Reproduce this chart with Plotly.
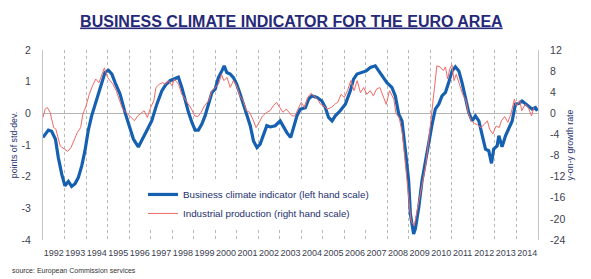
import plotly.graph_objects as go

# ---- data ----
years = list(range(1992, 2015))
year_labels = [str(y) for y in years]

bci_t = [1992.00, 1992.25, 1992.40, 1992.58, 1992.71, 1992.87, 1993.02, 1993.18, 1993.33, 1993.49,
         1993.64, 1993.80, 1993.95, 1994.10, 1994.26, 1994.42, 1994.57, 1994.73, 1994.88, 1995.04,
         1995.20, 1995.35, 1995.58, 1995.81, 1995.97, 1996.20, 1996.43, 1996.59, 1996.82, 1997.05,
         1997.29, 1997.52, 1997.70, 1997.90, 1998.14, 1998.29, 1998.45, 1998.60, 1998.76, 1998.92,
         1999.07, 1999.22, 1999.38, 1999.53, 1999.69, 1999.85, 2000.00, 2000.15, 2000.31, 2000.42,
         2000.54, 2000.70, 2000.85, 2001.00, 2001.16, 2001.40, 2001.63, 2001.78, 2001.94, 2002.09,
         2002.25, 2002.40, 2002.56, 2002.79, 2003.02, 2003.18, 2003.33, 2003.51, 2003.65, 2003.80,
         2003.95, 2004.19, 2004.34, 2004.50, 2004.73, 2004.96, 2005.12, 2005.27, 2005.43, 2005.58,
         2005.81, 2006.05, 2006.28, 2006.43, 2006.59, 2006.82, 2007.02, 2007.21, 2007.44, 2007.60,
         2007.75, 2007.98, 2008.21, 2008.37, 2008.53, 2008.68, 2008.84, 2008.99, 2009.07, 2009.22,
         2009.30, 2009.40, 2009.46, 2009.61, 2009.77, 2009.92, 2010.08, 2010.23, 2010.39, 2010.54,
         2010.70, 2010.85, 2011.01, 2011.16, 2011.32, 2011.47, 2011.63, 2011.78, 2011.94, 2012.09,
         2012.25, 2012.40, 2012.56, 2012.71, 2012.84, 2012.94, 2013.10, 2013.18, 2013.33, 2013.49,
         2013.64, 2013.80, 2013.95, 2014.10, 2014.26, 2014.42, 2014.57, 2014.73, 2014.88, 2014.97]
bci_v = [-0.76, -0.53, -0.57, -0.82, -1.39, -1.92, -2.29, -2.15, -2.31, -2.22,
         -2.03, -1.66, -1.18, -0.55, -0.08, 0.29, 0.60, 0.92, 1.29, 1.36,
         1.24, 0.97, 0.61, 0.03, -0.34, -0.81, -1.06, -0.87, -0.55, -0.24,
         0.29, 0.71, 0.90, 1.03, 1.11, 1.14, 0.82, 0.39, 0.03, -0.29,
         -0.53, -0.53, -0.34, -0.08, 0.29, 0.66, 0.76, 1.13, 1.34, 1.50,
         1.29, 1.24, 1.13, 0.92, 0.61, 0.13, -0.39, -0.87, -1.08, -0.97,
         -0.66, -0.39, -0.43, -0.39, -0.24, -0.45, -0.61, -0.76, -0.39, -0.08,
         0.13, 0.18, 0.45, 0.55, 0.50, 0.39, 0.18, -0.13, -0.24, -0.08,
         0.08, 0.29, 0.71, 1.08, 1.24, 1.29, 1.34, 1.45, 1.50, 1.34,
         1.18, 0.97, 0.82, 0.55, -0.03, -0.24, -1.18, -2.13, -3.18, -3.81,
         -3.65, -3.30, -2.97, -2.13, -1.50, -0.87, -0.34, 0.13, 0.29, 0.55,
         0.66, 0.97, 1.34, 1.47, 1.34, 0.97, 0.45, 0.03, -0.24, -0.08,
         -0.24, -0.71, -1.13, -1.18, -1.58, -1.13, -1.03, -0.71, -1.06, -0.71,
         -0.50, -0.24, 0.29, 0.31, 0.39, 0.31, 0.24, 0.13, 0.18, 0.08]

ip_t = [1992.00, 1992.10, 1992.20, 1992.33, 1992.40, 1992.50, 1992.60, 1992.70, 1992.80, 1993.00,
        1993.15, 1993.30, 1993.45, 1993.60, 1993.75, 1993.85, 1994.00, 1994.15, 1994.30, 1994.45,
        1994.60, 1994.75, 1994.85, 1995.00, 1995.10, 1995.25, 1995.40, 1995.55, 1995.70, 1995.85,
        1996.10, 1996.25, 1996.40, 1996.55, 1996.70, 1996.85, 1997.00, 1997.15, 1997.25, 1997.40,
        1997.55, 1997.70, 1997.83, 1998.00, 1998.10, 1998.30, 1998.45, 1998.60, 1998.75, 1998.90,
        1999.05, 1999.20, 1999.35, 1999.50, 1999.70, 1999.85, 2000.00, 2000.15, 2000.30, 2000.40,
        2000.55, 2000.70, 2000.85, 2001.00, 2001.15, 2001.30, 2001.45, 2001.60, 2001.75, 2001.90,
        2002.05, 2002.20, 2002.40, 2002.55, 2002.70, 2002.85, 2003.00, 2003.15, 2003.30, 2003.45,
        2003.58, 2003.70, 2003.85, 2004.00, 2004.15, 2004.30, 2004.45, 2004.60, 2004.75, 2004.90,
        2005.05, 2005.20, 2005.40, 2005.55, 2005.70, 2005.85, 2006.00, 2006.15, 2006.30, 2006.45,
        2006.60, 2006.75, 2006.90, 2007.05, 2007.20, 2007.35, 2007.50, 2007.65, 2007.80, 2007.95,
        2008.10, 2008.30, 2008.40, 2008.55, 2008.70, 2008.85, 2009.00, 2009.10, 2009.25, 2009.35,
        2009.45, 2009.60, 2009.77, 2009.92, 2010.08, 2010.20, 2010.30, 2010.45, 2010.60, 2010.70,
        2010.80, 2010.90, 2011.00, 2011.10, 2011.20, 2011.35, 2011.50, 2011.65, 2011.75, 2011.90,
        2012.05, 2012.20, 2012.35, 2012.50, 2012.65, 2012.75, 2012.90, 2013.05, 2013.20, 2013.30,
        2013.45, 2013.60, 2013.75, 2013.90, 2014.00, 2014.15, 2014.25, 2014.40, 2014.55, 2014.70,
        2014.80]
ip_v = [-0.8, 0.8, 1.1, 0.2, -1.1, -2.7, -3.0, -4.6, -6.2, -6.8,
        -7.2, -6.5, -5.2, -3.6, -2.7, -0.2, 1.4, 3.6, 5.2, 6.5,
        5.8, 7.4, 8.6, 6.8, 6.2, 5.5, 4.3, 2.4, 0.8, 0.2,
        -0.8, -1.4, -0.5, 0.0, 0.5, -0.8, 1.1, 2.4, 4.9, 5.5,
        5.8, 5.5, 6.2, 5.2, 6.5, 5.5, 3.6, 2.7, 1.7, 0.8,
        -0.5, -0.6, 0.2, 1.4, 2.4, 4.3, 4.9, 5.5, 7.4, 6.2,
        6.8, 4.9, 6.2, 5.2, 3.3, 2.4, 0.5, 0.2, -1.1, -2.7,
        -1.7, -0.5, 0.2, 0.5, 1.4, 2.1, 1.1, 0.2, 0.8, 0.0,
        -0.5, -0.5, 0.8, 2.1, 1.1, 3.0, 3.8, 3.3, 2.7, 1.7,
        1.4, 0.8, 1.1, 1.7, 2.1, 3.6, 3.0, 4.3, 6.2, 4.3,
        6.2, 3.9, 4.9, 3.6, 4.3, 3.3, 4.6, 4.9, 3.3, 1.7,
        4.3, 2.7, 0.0, -0.8, -3.9, -10.2, -15.9, -20.4, -21.3, -19.1,
        -17.2, -14.1, -10.2, -5.2, 1.1, 6.2, 9.0, 8.8, 8.1, 8.8,
        6.5, 8.4, 9.2, 6.2, 7.4, 5.5, 3.6, 2.4, 0.2, -1.4,
        -1.9, -2.2, -2.7, -2.1, -1.4, -3.0, -3.9, -2.4, -2.7, -1.4,
        -0.6, -1.7, 0.0, 2.7, 1.4, 2.4, 0.5, 1.7, 1.1, -0.5,
        1.1]

left_ticks = [2, 1, 0, -1, -2, -3, -4]
right_ticks = [12, 8, 4, 0, -4, -8, -12, -16, -20, -24]

NAVY = "#23306e"
TICK = "#3c4150"
BLUE = "#1560b0"
RED = "#f06a66"
FONT = "Liberation Sans, Arial, sans-serif"

fig = go.Figure()
fig.add_trace(go.Scatter(x=bci_t, y=bci_v, mode="lines", name="Business climate indicator (left hand scale)",
                         line=dict(color=BLUE, width=3.2), yaxis="y"))
fig.add_trace(go.Scatter(x=ip_t, y=ip_v, mode="lines", name="Industrial production (right hand scale)",
                         line=dict(color=RED, width=1), yaxis="y2"))

fig.update_layout(
    width=591, height=279,
    margin=dict(l=43, r=53, t=50, b=39, autoexpand=False),
    paper_bgcolor="white", plot_bgcolor="white",
    font=dict(family=FONT, size=10, color=TICK),
    title=dict(text="<b><u>BUSINESS CLIMATE INDICATOR FOR THE EURO AREA</u></b>",
               x=0.493, xanchor="center", y=0.925, yanchor="middle",
               font=dict(family=FONT, size=16, color="#262878")),
    xaxis=dict(range=[1992, 2015], tickmode="array", tickvals=[y + 0.5 for y in years],
               ticktext=year_labels, showgrid=False, zeroline=False, showline=False,
               tickangle=0, automargin=False,
               ticks="outside", ticklen=4, tickcolor="rgba(0,0,0,0)",
               tickfont=dict(family=FONT, size=9, color=TICK),
               minor=dict(tick0=1992, dtick=1, showgrid=True, gridcolor="#b8b8b8",
                          griddash="3px,3px", gridwidth=1, ticks="")),
    yaxis=dict(range=[-4, 2], tickmode="array", tickvals=left_ticks,
               ticktext=[str(v) for v in left_ticks], showgrid=False, automargin=False,
               zeroline=True, zerolinecolor="#b4b4b4", zerolinewidth=1,
               showline=True, linecolor="#c4c4c4", linewidth=1,
               ticks="outside", ticklen=9, tickcolor="rgba(0,0,0,0)",
               tickfont=dict(family=FONT, size=10.5, color=TICK),
               title=dict(text="points of std-dev.", standoff=2,
                          font=dict(family=FONT, size=8.8, color=NAVY))),
    yaxis2=dict(range=[-24, 12], overlaying="y", side="right", tickmode="array",
                tickvals=right_ticks, ticktext=[str(v) for v in right_ticks], automargin=False,
                showgrid=False, zeroline=False, showline=True, linecolor="#c4c4c4", linewidth=1,
                ticks="outside", ticklen=9, tickcolor="rgba(0,0,0,0)",
                tickfont=dict(family=FONT, size=10.5, color=TICK),
                title=dict(text="y-on-y growth rate", standoff=2,
                           font=dict(family=FONT, size=8.8, color=NAVY))),
    legend=dict(x=0.202, y=0.316, xanchor="left", yanchor="top", bgcolor="white",
                font=dict(family=FONT, size=9.8, color=NAVY), tracegroupgap=0,
                borderwidth=0),
    showlegend=True,
)

fig.add_annotation(text="source: European Commission services", xref="paper", yref="paper",
                   x=-0.067, y=-0.163, xanchor="left", yanchor="middle", showarrow=False,
                   font=dict(family=FONT, size=7, color="#333333"))

fig.write_html("out.html")
